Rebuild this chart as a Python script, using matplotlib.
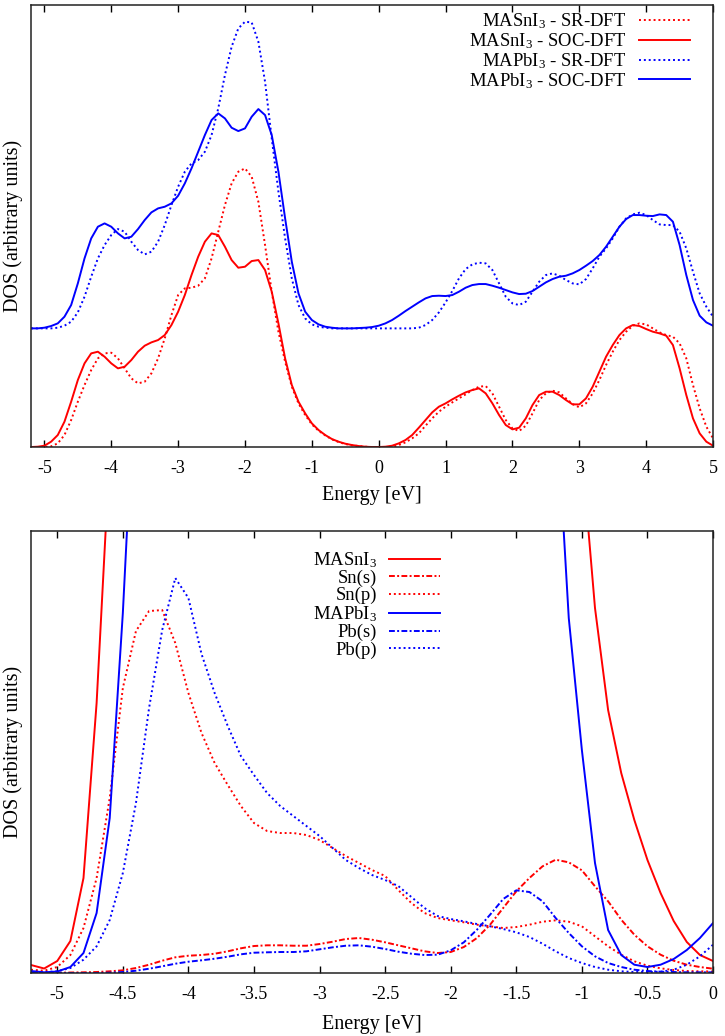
import numpy as np
import matplotlib
matplotlib.use("Agg")
import matplotlib.pyplot as plt
from matplotlib.ticker import FuncFormatter

plt.rcParams.update({
    "font.family": "Liberation Serif",
    "mathtext.fontset": "custom",
    "mathtext.rm": "Liberation Serif",
    "mathtext.it": "Liberation Serif",
    "axes.unicode_minus": False,
})

RED = "#ff0000"
BLUE = "#0000ff"
DOT = (0, (1, 1.5))
DASHDOT = (0, (3, 1.2, 1, 1.2))

# ── Top panel: total DOS, SR vs SOC (energy grid -5.2 .. 5.0 eV, step 0.1) ──
E_top = np.round(np.linspace(-5.2, 5.0, 103), 1)

sn_sr = [0.00, 0.00, 0.00, 0.02, 0.11, 0.36, 0.81, 1.36, 1.86, 2.31,
         2.66, 2.81, 2.83, 2.66, 2.36, 2.06, 1.91, 1.96, 2.21, 2.66,
         3.26, 3.96, 4.56, 4.76, 4.78, 4.84, 5.06, 5.66, 6.46, 7.26,
         7.91, 8.26, 8.36, 8.11, 7.36, 6.06, 4.66, 3.46, 2.56, 1.81,
         1.31, 0.96, 0.68, 0.49, 0.35, 0.23, 0.15, 0.09, 0.05, 0.03,
         0.01, 0.00, 0.00, 0.00, 0.01, 0.06, 0.14, 0.26, 0.41, 0.64,
         0.86, 1.06, 1.21, 1.34, 1.46, 1.58, 1.71, 1.81, 1.83, 1.61,
         1.21, 0.81, 0.56, 0.48, 0.64, 1.01, 1.41, 1.61, 1.69, 1.64,
         1.46, 1.29, 1.19, 1.31, 1.61, 2.01, 2.46, 2.86, 3.21, 3.46,
         3.64, 3.71, 3.68, 3.56, 3.44, 3.36, 3.31, 3.11, 2.66, 1.86,
         1.16, 0.61, 0.26]

sn_soc = [0.00, 0.01, 0.04, 0.16, 0.36, 0.76, 1.36, 2.01, 2.51, 2.81,
          2.86, 2.71, 2.51, 2.36, 2.41, 2.61, 2.86, 3.04, 3.14, 3.21,
          3.36, 3.66, 4.06, 4.56, 5.16, 5.71, 6.16, 6.41, 6.36, 6.01,
          5.61, 5.38, 5.41, 5.58, 5.61, 5.31, 4.66, 3.71, 2.66, 1.86,
          1.36, 1.01, 0.71, 0.51, 0.36, 0.24, 0.16, 0.10, 0.06, 0.03,
          0.01, 0.00, 0.00, 0.01, 0.04, 0.11, 0.21, 0.36, 0.58, 0.81,
          1.04, 1.21, 1.31, 1.43, 1.54, 1.64, 1.71, 1.76, 1.61, 1.31,
          0.96, 0.66, 0.53, 0.58, 0.86, 1.26, 1.56, 1.66, 1.66, 1.56,
          1.41, 1.28, 1.28, 1.46, 1.81, 2.26, 2.71, 3.06, 3.36, 3.56,
          3.66, 3.63, 3.54, 3.46, 3.41, 3.34, 3.06, 2.36, 1.56, 0.86,
          0.41, 0.16, 0.04]

pb_sr = [0.00, 0.00, 0.00, 0.00, 0.02, 0.08, 0.20, 0.48, 0.95, 1.55,
         2.10, 2.50, 2.80, 2.98, 2.90, 2.60, 2.35, 2.22, 2.30, 2.60,
         3.10, 3.70, 4.25, 4.70, 4.95, 5.05, 5.30, 5.80, 6.60, 7.60,
         8.45, 9.00, 9.20, 9.18, 8.60, 7.40, 5.70, 4.10, 2.70, 1.50,
         0.70, 0.30, 0.12, 0.05, 0.02, 0.00, 0.00, 0.00, 0.00, 0.00,
         0.00, 0.00, 0.00, 0.00, 0.00, 0.00, 0.00, 0.00, 0.02, 0.10,
         0.25, 0.48, 0.78, 1.12, 1.50, 1.78, 1.92, 1.97, 1.95, 1.75,
         1.35, 0.95, 0.75, 0.70, 0.80, 1.10, 1.40, 1.60, 1.65, 1.58,
         1.45, 1.35, 1.32, 1.48, 1.80, 2.15, 2.40, 2.70, 3.05, 3.30,
         3.42, 3.47, 3.40, 3.25, 3.12, 3.10, 3.10, 2.90, 2.40, 1.70,
         1.05, 0.65, 0.35]

pb_soc = [0.00, 0.00, 0.02, 0.07, 0.15, 0.35, 0.70, 1.35, 2.10, 2.70,
          3.05, 3.15, 3.05, 2.85, 2.70, 2.75, 2.98, 3.25, 3.48, 3.60,
          3.65, 3.75, 3.98, 4.35, 4.80, 5.30, 5.80, 6.25, 6.45, 6.30,
          6.02, 5.92, 6.00, 6.35, 6.58, 6.40, 5.80, 4.70, 3.30, 2.00,
          1.05, 0.50, 0.25, 0.12, 0.05, 0.02, 0.00, 0.00, 0.00, 0.01,
          0.02, 0.04, 0.08, 0.15, 0.25, 0.38, 0.52, 0.65, 0.78, 0.90,
          0.97, 0.98, 0.97, 1.00, 1.10, 1.22, 1.30, 1.33, 1.33, 1.28,
          1.22, 1.15, 1.08, 1.03, 1.04, 1.12, 1.25, 1.38, 1.48, 1.55,
          1.58, 1.65, 1.75, 1.88, 2.02, 2.20, 2.45, 2.75, 3.05, 3.28,
          3.40, 3.40, 3.38, 3.37, 3.42, 3.40, 3.20, 2.50, 1.60, 0.85,
          0.38, 0.18, 0.08]

PB_OFFSET = 3.56   # vertical shift of the MAPbI3 curves
TOP_YMAX = 13.26

# ── Bottom panel: projected DOS (energy grid -5.2 .. 0 eV, step 0.1) ──
E_bot = np.round(np.linspace(-5.2, 0.0, 53), 1)
nan = np.nan

sn_tot = ([0.8, 0.45, 1.2, 3.2, 9.5, 27.0, 52.0] + [nan] * 35 +
          [52.0, 36.5, 26.3, 20.0, 15.3, 11.3, 8.0, 5.2, 3.1, 1.8, 1.2])

sn_s = [0.00, 0.00, 0.03, 0.05, 0.07, 0.10, 0.17, 0.27, 0.50, 0.83,
        1.23, 1.57, 1.73, 1.80, 1.93, 2.17, 2.47, 2.70, 2.77, 2.77,
        2.73, 2.73, 2.90, 3.13, 3.40, 3.50, 3.33, 3.07, 2.77, 2.47,
        2.17, 2.00, 2.10, 2.60, 3.50, 4.83, 6.50, 8.17, 9.50, 10.67,
        11.33, 11.07, 10.27, 8.67, 7.17, 5.33, 3.83, 2.67, 1.83, 1.23,
        0.83, 0.60, 0.43]

sn_p = [0.33, 0.23, 0.60, 1.80, 4.50, 9.50, 17.5, 28.5, 34.2, 36.2,
        36.3, 33.0, 28.0, 24.0, 21.0, 18.8, 16.7, 15.0, 14.2, 14.0,
        14.0, 13.8, 13.3, 12.5, 11.7, 11.0, 10.3, 9.70, 8.30, 7.00,
        6.00, 5.50, 5.27, 5.07, 4.83, 4.67, 4.50, 4.60, 4.83, 5.13,
        5.27, 5.13, 4.67, 3.67, 2.67, 1.83, 1.17, 0.73, 0.47, 0.30,
        0.20, 0.17, 0.15]

pb_tot = ([0.2, 0.07, 0.15, 0.6, 2.0, 6.0, 15.5, 36.0, 62.0] + [nan] * 31 +
          [58.0, 35.5, 22.3, 11.0, 4.3, 1.8, 0.83, 0.6, 0.83, 1.4, 2.3, 3.5, 5.0])

pb_s = [0.00, 0.00, 0.00, 0.00, 0.00, 0.00, 0.03, 0.10, 0.23, 0.43,
        0.67, 0.93, 1.13, 1.27, 1.43, 1.63, 1.87, 2.03, 2.07, 2.10,
        2.10, 2.17, 2.37, 2.57, 2.73, 2.77, 2.63, 2.40, 2.13, 1.93,
        1.80, 1.83, 2.27, 3.07, 4.33, 5.83, 7.40, 8.27, 8.10, 7.17,
        5.50, 4.00, 2.67, 1.67, 1.00, 0.60, 0.33, 0.20, 0.13, 0.10,
        0.07, 0.07, 0.07]

pb_p = [0.10, 0.10, 0.17, 0.50, 1.33, 2.67, 5.30, 10.0, 17.0, 26.5,
        34.3, 39.5, 37.5, 31.9, 28.0, 24.7, 21.7, 19.8, 18.0, 16.7,
        15.7, 14.7, 13.7, 12.5, 11.3, 10.5, 9.80, 9.30, 8.70, 7.60,
        6.50, 5.70, 5.40, 5.17, 4.90, 4.67, 4.40, 4.07, 3.60, 2.93,
        2.17, 1.50, 1.00, 0.60, 0.33, 0.17, 0.10, 0.10, 0.13, 0.33,
        0.83, 1.67, 2.83]

BOT_YMAX = 44.2

LW = 1.4
fmt = FuncFormatter(lambda v, pos: "%g" % v)

fig = plt.figure(figsize=(7.25, 10.36), dpi=100)
ax1 = fig.add_axes([0.0428, 0.5685, 0.9407, 0.4266])
ax2 = fig.add_axes([0.0428, 0.0608, 0.9407, 0.4266])

# (top) SR vs SOC total DOS
ax1.plot(E_top, sn_sr, color=RED, ls=DOT, lw=LW, label="MASnI$_3$ - SR-DFT")
ax1.plot(E_top, sn_soc, color=RED, ls="-", lw=LW, label="MASnI$_3$ - SOC-DFT")
ax1.plot(E_top, np.array(pb_sr) + PB_OFFSET, color=BLUE, ls=DOT, lw=LW,
         label="MAPbI$_3$ - SR-DFT")
ax1.plot(E_top, np.array(pb_soc) + PB_OFFSET, color=BLUE, ls="-", lw=LW,
         label="MAPbI$_3$ - SOC-DFT")
ax1.set_xlim(-5.2, 5.0)
ax1.set_ylim(0, TOP_YMAX)
ax1.set_xticks(np.arange(-5, 6, 1))
ax1.legend(loc="upper right", bbox_to_anchor=(0.966, 0.985), frameon=False,
           markerfirst=False, fontsize=13.4, handlelength=2.75,
           handletextpad=0.65, labelspacing=0.0, borderpad=0, borderaxespad=0)

# (bottom) projected DOS
ax2.plot(E_bot, sn_tot, color=RED, ls="-", lw=LW, label="MASnI$_3$")
ax2.plot(E_bot, sn_s, color=RED, ls=DASHDOT, lw=LW, label="Sn(s)")
ax2.plot(E_bot, sn_p, color=RED, ls=DOT, lw=LW, label="Sn(p)")
ax2.plot(E_bot, pb_tot, color=BLUE, ls="-", lw=LW, label="MAPbI$_3$")
ax2.plot(E_bot, pb_s, color=BLUE, ls=DASHDOT, lw=LW, label="Pb(s)")
ax2.plot(E_bot, pb_p, color=BLUE, ls=DOT, lw=LW, label="Pb(p)")
ax2.set_xlim(-5.2, 0.0)
ax2.set_ylim(0, BOT_YMAX)
ax2.set_xticks(np.arange(-5, 0.01, 0.5))
ax2.legend(loc="upper right", bbox_to_anchor=(0.600, 0.957), frameon=False,
           markerfirst=False, fontsize=13.4, handlelength=2.75,
           handletextpad=0.65, labelspacing=0.0, borderpad=0, borderaxespad=0)

for ax, xl_y in ((ax1, -0.088), (ax2, -0.094)):
    ax.set_yticks([])
    ax.xaxis.set_major_formatter(fmt)
    ax.tick_params(axis="x", direction="in", top=True, length=5, width=1,
                   labelsize=13, pad=9)
    for sp in ax.spines.values():
        sp.set_linewidth(1.1)
        sp.set_color("#222222")
    ax.set_xlabel("Energy [eV]", fontsize=14.5)
    ax.set_ylabel("DOS (arbitrary units)", fontsize=14.5)
    ax.yaxis.set_label_coords(-0.012, 0.5)
    ax.xaxis.set_label_coords(0.5, xl_y)

fig.savefig("out.png", dpi=100)
